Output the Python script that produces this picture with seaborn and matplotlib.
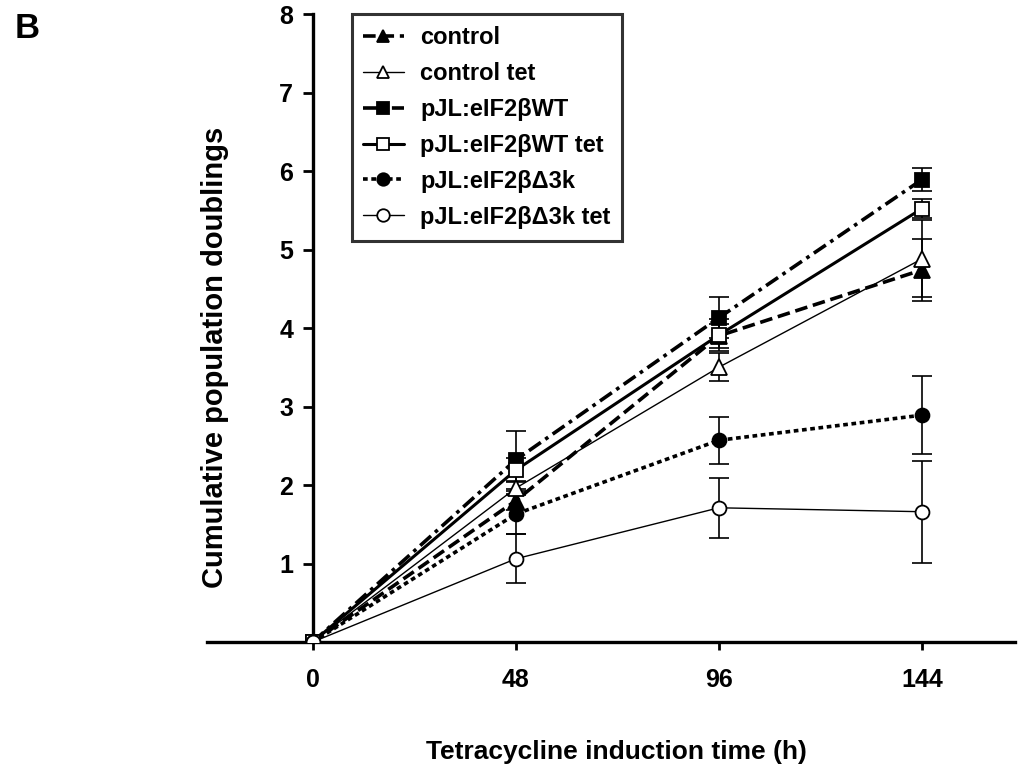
import numpy as np
import pandas as pd
import matplotlib
matplotlib.use("Agg")
import matplotlib.pyplot as plt
import seaborn as sns

# data
times = [0, 48, 96, 144]
series_names = ["control", "control tet", "pJL:eIF2\u03b2WT", "pJL:eIF2\u03b2WT tet",
                "pJL:eIF2\u03b2\u03943k", "pJL:eIF2\u03b2\u03943k tet"]
control = [0, 1.80, 3.90, 4.74]
control_err = [0, 0.12, 0.15, 0.40]
control_tet = [0, 1.96, 3.50, 4.88]
control_tet_err = [0, 0.09, 0.18, 0.49]
wt = [0, 2.32, 4.13, 5.89]
wt_err = [0, 0.37, 0.26, 0.15]
wt_tet = [0, 2.19, 3.91, 5.52]
wt_tet_err = [0, 0.15, 0.20, 0.12]
d3k = [0, 1.63, 2.57, 2.89]
d3k_err = [0, 0.25, 0.30, 0.50]
d3k_tet = [0, 1.06, 1.71, 1.66]
d3k_tet_err = [0, 0.31, 0.38, 0.65]

values = [control, control_tet, wt, wt_tet, d3k, d3k_tet]
errors = [control_err, control_tet_err, wt_err, wt_tet_err, d3k_err, d3k_tet_err]

df = pd.DataFrame({
    "time": times * len(series_names),
    "doublings": sum(values, []),
    "err": sum(errors, []),
    "group": [n for n in series_names for _ in times],
})

sns.set_theme(style="ticks")
plt.rcParams['font.family'] = ['Liberation Sans', 'DejaVu Sans']
plt.rcParams['font.weight'] = 'bold'
plt.rcParams['text.color'] = 'black'

# look of each group: marker, filled?, linewidth, dashes
styles = {
    series_names[0]: ("^", True, 2.6, (3.5, 1.6)),
    series_names[1]: ("^", False, 1.0, None),
    series_names[2]: ("s", True, 2.6, (4.0, 1.5, 1.0, 1.5)),
    series_names[3]: ("s", False, 2.2, None),
    series_names[4]: ("o", True, 2.6, (1.3, 1.0)),
    series_names[5]: ("o", False, 1.0, None),
}

fig = plt.figure(figsize=(10.22, 7.74), dpi=100)
ax = fig.add_axes([0.2025, 0.1705, 0.7906, 0.8114])

for name in series_names:
    sub = df[df["group"] == name]
    mk, filled, lw, dash = styles[name]
    ax.errorbar(sub["time"], sub["doublings"], yerr=sub["err"], fmt="none",
                ecolor="black", elinewidth=1.2, capsize=7, capthick=1.2, zorder=2)
    kw = dict(marker=mk, markersize=10 if mk != "^" else 11,
              markerfacecolor="black" if filled else "white",
              markeredgecolor="black", markeredgewidth=1.3,
              color="black", linewidth=lw, label=name, zorder=3)
    sns.lineplot(data=sub, x="time", y="doublings", ax=ax, **kw)
    if dash is not None:
        ax.lines[-1].set_dashes(dash)

ax.set_xlim(-25, 166)
ax.set_ylim(0, 8)
ax.set_xticks(times)
ax.set_xticklabels(["0", "48", "96", "144"])
ax.set_yticks([1, 2, 3, 4, 5, 6, 7, 8])
ax.spines["left"].set_position(("data", 0))
ax.spines["top"].set_visible(False)
ax.spines["right"].set_visible(False)
ax.spines["left"].set_linewidth(2.4)
ax.spines["bottom"].set_linewidth(2.4)
ax.spines["left"].set_color("black")
ax.spines["bottom"].set_color("black")
ax.spines["left"].set_bounds(0, 8)
ax.tick_params(axis="y", direction="out", length=7, width=2, pad=7,
               labelsize=18, colors="black")
ax.tick_params(axis="x", direction="out", length=6, width=2, pad=13,
               labelsize=18, colors="black")
for t in ax.get_xticklabels() + ax.get_yticklabels():
    t.set_fontweight("bold")
ax.set_xlabel("")
ax.set_ylabel("")

fig.text(215 / 1022, 1 - 357 / 774, "Cumulative population doublings", rotation=90,
         ha="center", va="center", fontsize=21, fontweight="bold", color="black")
fig.text(616 / 1022, 1 - 752 / 774, "Tetracycline induction time (h)",
         ha="center", va="center", fontsize=19, fontweight="bold", color="black")
fig.text(27 / 1022, 1 - 29 / 774, "B", ha="center", va="center",
         fontsize=25, fontweight="bold", color="black")

handles = [l for l in ax.lines if l.get_label() in series_names]
leg = ax.legend(handles=handles, labels=series_names, loc="upper left",
                bbox_to_anchor=(0.179, 1.0), borderaxespad=0, frameon=True,
                fancybox=False, handlelength=1.7, labelspacing=0.55,
                handletextpad=0.7, borderpad=0.5,
                prop={"weight": "bold", "size": 17})
leg.get_frame().set_edgecolor("black")
leg.get_frame().set_linewidth(2.2)
for h in leg.legend_handles:
    h.set_markersize(9)

fig.savefig("out.png", dpi=100)
